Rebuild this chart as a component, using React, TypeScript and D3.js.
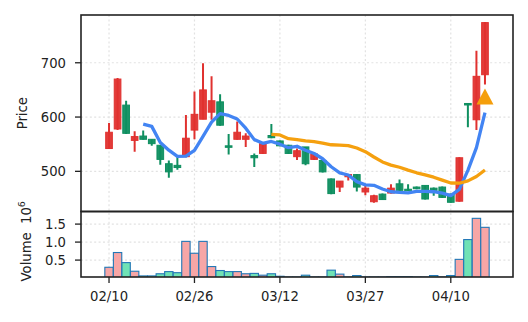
import React from "react";
import * as d3 from "d3";

// ---- data ----
const opens = [542, 578, 622, 557, 565, 559, 548, 514, 511, 527, 576, 596, 609, 628, 547, 559, 559, 529, 533, 566, 556, 548, 527, 545, 522, 520, 486, 471, 490, 494, 462, 444, 458, 460, 477, 467, 471, 474, 469, 471, 458, 445, 625, 595, 678];
const closes = [572, 670, 570, 564, 559, 551, 522, 499, 507, 561, 605, 650, 630, 585, 545, 572, 565, 525, 551, 562, 547, 533, 538, 514, 532, 499, 459, 482, 494, 471, 469, 455, 448, 469, 465, 465, 468, 449, 465, 452, 443, 525, 624, 675, 774];
const highs = [589, 672, 630, 574, 575, 559, 548, 520, 527, 604, 647, 699, 675, 642, 569, 592, 570, 533, 554, 587, 557, 549, 542, 545, 534, 521, 487, 482, 495, 495, 474, 457, 459, 476, 485, 476, 472, 474, 470, 472, 459, 526, 626, 722, 775];
const lows = [541, 576, 569, 536, 558, 547, 512, 488, 503, 526, 559, 596, 595, 584, 531, 558, 545, 508, 532, 561, 546, 532, 521, 511, 521, 498, 458, 462, 483, 463, 456, 442, 447, 459, 464, 464, 467, 448, 455, 451, 442, 444, 581, 576, 660];
const volumes = [0.30, 0.71, 0.43, 0.19, 0.06, 0.06, 0.12, 0.18, 0.15, 1.02, 0.69, 1.02, 0.32, 0.21, 0.18, 0.18, 0.12, 0.13, 0.08, 0.12, 0.05, 0.03, 0.03, 0.08, 0.03, 0.03, 0.22, 0.11, 0.03, 0.07, 0.03, 0.03, 0.03, 0.04, 0.04, 0.04, 0.03, 0.03, 0.07, 0.03, 0.07, 0.52, 1.07, 1.66, 1.41];
const signalIdx = [44];
const signalPrice = [638];
const tickIdx = [0, 10, 20, 30, 40];
const tickLabels = ["02/10", "02/26", "03/12", "03/27", "04/10"];
const priceTicks = [500, 600, 700];
const volTicks = [0.5, 1.0, 1.5];
const maPeriods = [5, 20];

const W = 528, H = 322;
const L = 81, R = 513, T = 15, MID = 211.5, B = 277;
const FONT = "DejaVu Sans";
const UP = "#e0312f", DOWN = "#0f8f60";
const MA_COLORS = ["#4284f3", "#f5a00f"];

function rollingMean(vals: number[], n: number) {
  return vals.map((_, i) => (i < n - 1 ? null : d3.mean(vals.slice(i - n + 1, i + 1)) as number));
}

export default function App() {
  const x = d3.scaleLinear().domain([-3.28, 47.28]).range([L, R]);
  const yP = d3.scaleLinear().domain([426, 788]).range([MID, T]);
  const yV = d3.scaleLinear().domain([0.03, 1.85]).range([B, MID]);
  const step = x(1) - x(0);
  const bodyW = step * 0.78;

  const mas = maPeriods.map((p) => rollingMean(closes, p));
  const line = d3
    .line<number | null>()
    .defined((d) => d !== null)
    .x((_, i) => x(i))
    .y((d) => yP(d as number));

  const grid = { stroke: "#e2e2e2", strokeWidth: 1.2, strokeDasharray: "2,2.4" };
  const tw = 17, th = 16;

  return (
    <svg width={W} height={H} style={{ position: "absolute", left: 0, top: 0, background: "#fff" }} fontFamily={FONT}>
      <defs>
        <clipPath id="cp">
          <rect x={L} y={T} width={R - L} height={MID - T} />
        </clipPath>
        <clipPath id="cv">
          <rect x={L} y={MID} width={R - L} height={B - MID} />
        </clipPath>
      </defs>
      {/* grid */}
      {tickIdx.map((t) => (
        <line key={"gx" + t} x1={x(t)} x2={x(t)} y1={T} y2={B} {...grid} />
      ))}
      {priceTicks.map((p) => (
        <line key={"gp" + p} x1={L} x2={R} y1={yP(p)} y2={yP(p)} {...grid} />
      ))}
      {volTicks.map((v) => (
        <line key={"gv" + v} x1={L} x2={R} y1={yV(v)} y2={yV(v)} {...grid} />
      ))}
      {/* candles */}
      <g clipPath="url(#cp)">
        {closes.map((c, i) => {
          const o = opens[i];
          const col = c >= o ? UP : DOWN;
          const top = yP(Math.max(o, c));
          const h = Math.max(1.5, Math.abs(yP(o) - yP(c)));
          return (
            <g key={"c" + i}>
              <line x1={x(i)} x2={x(i)} y1={yP(highs[i])} y2={yP(lows[i])} stroke={col} strokeWidth={2} />
              <rect x={x(i) - bodyW / 2} y={top} width={bodyW} height={h} fill={col} stroke={col} strokeWidth={1} fillOpacity={0.95} />
            </g>
          );
        })}
        {mas.map((m, k) => (
          <path key={"ma" + k} d={line(m) || ""} fill="none" stroke={MA_COLORS[k]} strokeWidth={3.3} strokeLinejoin="round" strokeLinecap="butt" />
        ))}
        {signalIdx.map((si, k) => {
          const cx = x(si), cy = yP(signalPrice[k]);
          return (
            <path key={"sig" + k} d={`M${cx},${cy - th / 2}L${cx + tw / 2},${cy + th / 2}L${cx - tw / 2},${cy + th / 2}Z`} fill="#f59e0b" />
          );
        })}
      </g>
      {/* volume */}
      <g clipPath="url(#cv)">
        {volumes.map((v, i) => {
          const up = closes[i] >= opens[i];
          const bw = step * 0.98;
          return (
            <rect key={"v" + i} x={x(i) - bw / 2} y={yV(v)} width={bw} height={Math.max(0, B + 2 - yV(v))} fill={up ? "#f7a6a6" : "#70e2b5"} stroke="#2277b6" strokeWidth={1.1} />
          );
        })}
      </g>
      {/* frames */}
      <rect x={L} y={T} width={R - L} height={MID - T} fill="none" stroke="#222" strokeWidth={1.6} />
      <rect x={L} y={MID} width={R - L} height={B - MID} fill="none" stroke="#222" strokeWidth={1.6} />
      {/* y ticks price */}
      {priceTicks.map((p) => (
        <g key={"tp" + p}>
          <line x1={L - 6} x2={L} y1={yP(p)} y2={yP(p)} stroke="#222" strokeWidth={1.3} />
          <text x={L - 15} y={yP(p)} dy="0.36em" textAnchor="end" fontSize={13.2} fill="#222">{p}</text>
        </g>
      ))}
      {volTicks.map((v) => (
        <g key={"tv" + v}>
          <line x1={L - 6} x2={L} y1={yV(v)} y2={yV(v)} stroke="#222" strokeWidth={1.3} />
          <text x={L - 15} y={yV(v)} dy="0.36em" textAnchor="end" fontSize={13.2} fill="#222">{v.toFixed(1)}</text>
        </g>
      ))}
      {tickIdx.map((t, k) => (
        <g key={"tx" + t}>
          <line x1={x(t)} x2={x(t)} y1={B} y2={B + 6} stroke="#222" strokeWidth={1.3} />
          <text x={x(t)} y={301} textAnchor="middle" fontSize={13.2} fill="#222">{tickLabels[k]}</text>
        </g>
      ))}
      <text transform={`translate(26.5,${(T + MID) / 2}) rotate(-90)`} textAnchor="middle" fontSize={13.2} fill="#222">Price</text>
      <text transform={`translate(31,${(MID + B) / 2 - 3}) rotate(-90)`} textAnchor="middle" fontSize={13.2} fill="#222">
        Volume{"\u00a0\u00a0"}10<tspan fontSize={9.5} dy={-6}>6</tspan>
      </text>
    </svg>
  );
}
